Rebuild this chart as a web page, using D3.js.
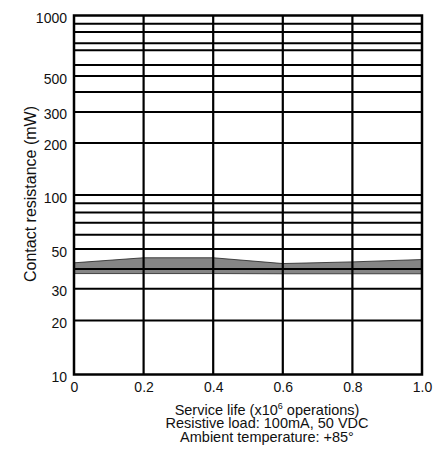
<!DOCTYPE html>
<html>
<head>
<meta charset="utf-8">
<script src="https://cdn.jsdelivr.net/npm/d3@7"></script>
<style>
  body { margin: 0; background: #fff; }
  text { font-family: "Liberation Sans", Arial, sans-serif; fill: #111; }
  .tick text { font-family: "Liberation Sans Narrow", "Arial Narrow", "Liberation Sans", sans-serif; font-stretch: condensed; }
</style>
</head>
<body>
<div id="chart"></div>
<script>
// Service life steps (x10^6 operations)
var life = [0, 0.2, 0.4, 0.6, 0.8, 1.0];
// Contact resistance band (mW)
var bandUpper = [41.9, 44.7, 44.7, 41.5, 42.4, 43.7];
var bandLower = [36.5, 36.5, 36.5, 36.4, 36.4, 36.4];

// Horizontal grid values as they sit in the original drawing
var gridValues = [900, 810, 700, 640, 530, 460, 375, 290, 195, 100, 90, 80, 70, 60, 50, 38.7, 30, 20];
// Tick label positions and their texts
var yTickPos = [1000, 460, 290, 195, 100, 50, 30, 20, 10];
var yTickText = ["1000", "500", "300", "200", "100", "50", "30", "20", "10"];
var xTicks = [0, 0.2, 0.4, 0.6, 0.8, 1.0];
var xTickText = ["0", "0.2", "0.4", "0.6", "0.8", "1.0"];

var width = 438, height = 452;

var svg = d3.select("#chart").append("svg")
    .attr("width", width)
    .attr("height", height);

var x = d3.scaleLinear().domain([0, 1]).range([74, 422]);
var y = d3.scaleLog().domain([10, 1000]).range([374.5, 15.5]);

var rows = life.map(function(d, i) {
  return { life: d, lo: bandLower[i], hi: bandUpper[i] };
});

// Band first, grid goes over it
var area = d3.area()
    .x(function(d) { return x(d.life); })
    .y0(function(d) { return y(d.lo); })
    .y1(function(d) { return y(d.hi); });

svg.append("path")
    .datum(rows)
    .attr("d", area)
    .attr("fill", "#858585")
    .attr("stroke", "#222")
    .attr("stroke-width", 0.8);

// Horizontal grid
svg.append("g").selectAll("line")
    .data(gridValues)
    .enter()
    .append("line")
    .attr("x1", x(0))
    .attr("x2", x(1))
    .attr("y1", function(d) { return y(d); })
    .attr("y2", function(d) { return y(d); })
    .attr("stroke", "#000")
    .attr("stroke-width", 2);

// Vertical grid
svg.append("g").selectAll("line")
    .data(xTicks.slice(1, -1))
    .enter()
    .append("line")
    .attr("x1", function(d) { return x(d); })
    .attr("x2", function(d) { return x(d); })
    .attr("y1", y(1000))
    .attr("y2", y(10))
    .attr("stroke", "#000")
    .attr("stroke-width", 2.2);

// Frame
svg.append("rect")
    .attr("x", x(0))
    .attr("y", y(1000))
    .attr("width", x(1) - x(0))
    .attr("height", y(10) - y(1000))
    .attr("fill", "none")
    .attr("stroke", "#000")
    .attr("stroke-width", 2.5);

// Y tick labels
var yAxis = d3.axisLeft(y)
    .tickValues(yTickPos)
    .tickFormat(function(d, i) { return yTickText[i]; })
    .tickSize(0)
    .tickPadding(7);

var gy = svg.append("g")
    .attr("transform", "translate(" + x(0) + ",0)")
    .call(yAxis);
gy.select(".domain").remove();
gy.attr("font-family", null).attr("font-size", null);
gy.selectAll("text")
    .attr("font-size", 14)
    .attr("fill", "#111")
    .attr("dy", "0.5em");

// X tick labels
var xAxis = d3.axisBottom(x)
    .tickValues(xTicks)
    .tickFormat(function(d, i) { return xTickText[i]; })
    .tickSize(0)
    .tickPadding(8);

var gx = svg.append("g")
    .attr("transform", "translate(0," + y(10) + ")")
    .call(xAxis);
gx.select(".domain").remove();
gx.attr("font-family", null).attr("font-size", null);
gx.selectAll("text")
    .attr("font-size", 14)
    .attr("fill", "#111");

// Axis titles
svg.append("text")
    .attr("transform", "translate(36,194) rotate(-90)")
    .attr("text-anchor", "middle")
    .attr("font-size", 16)
    .text("Contact resistance (mW)");

var title = svg.append("text")
    .attr("x", 267)
    .attr("y", 414.5)
    .attr("text-anchor", "middle")
    .attr("font-size", 14.5);
title.append("tspan").text("Service life (x10");
title.append("tspan").attr("font-size", 9).attr("dy", -6).text("6");
title.append("tspan").attr("dy", 6).text(" operations)");

svg.append("text")
    .attr("x", 267)
    .attr("y", 428)
    .attr("text-anchor", "middle")
    .attr("font-size", 14.5)
    .text("Resistive load: 100mA, 50 VDC");

svg.append("text")
    .attr("x", 267)
    .attr("y", 441.5)
    .attr("text-anchor", "middle")
    .attr("font-size", 14.5)
    .text("Ambient temperature: +85\u00B0");
</script>
</body>
</html>
